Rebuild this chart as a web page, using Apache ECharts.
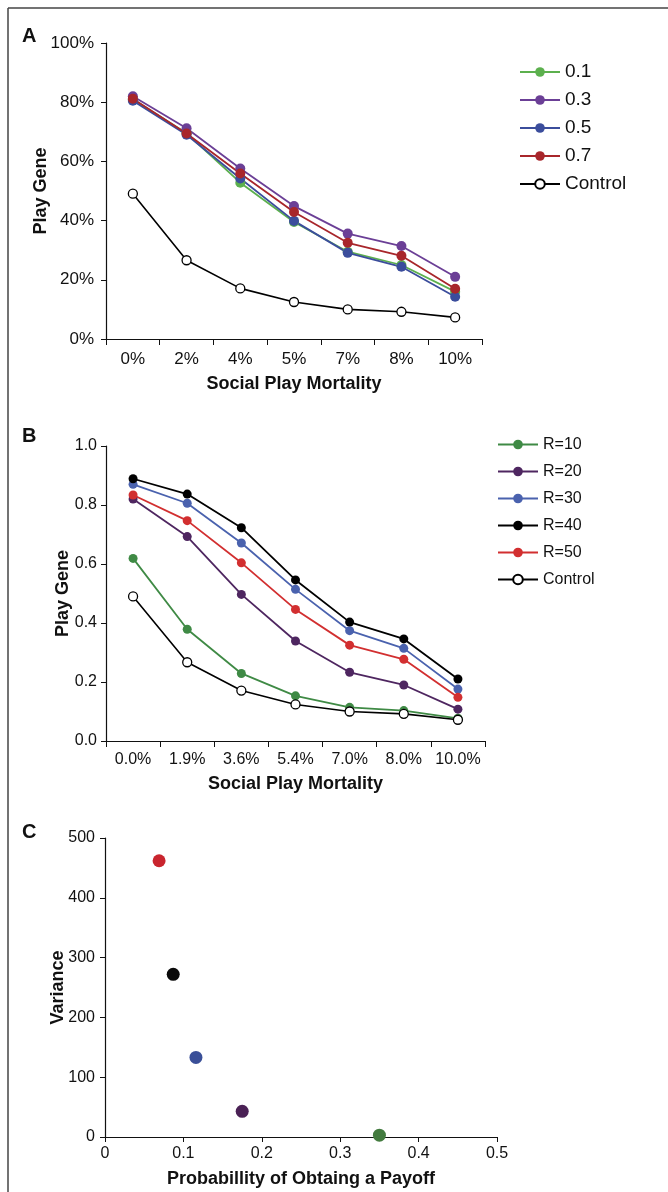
<!DOCTYPE html>
<html>
<head>
<meta charset="utf-8">
<script src="https://cdn.jsdelivr.net/npm/echarts@6/dist/echarts.min.js"></script>
<style>html,body{margin:0;padding:0;background:#fff}#c{width:668px;height:1192px}</style>
</head>
<body>
<div id="c"></div>
<script>
// Panel A
const aCategories = ['0%', '2%', '4%', '5%', '7%', '8%', '10%'];
const aNames = ['0.1', '0.3', '0.5', '0.7', 'Control'];
const a01 = [81, 69.5, 52.8, 39.5, 29.5, 25, 16];
const a03 = [82, 71.2, 57.6, 44.9, 35.6, 31.4, 21];
const a05 = [80.5, 69, 54.2, 39.9, 29.1, 24.4, 14.3];
const a07 = [81.2, 69.4, 55.9, 42.9, 32.5, 28.1, 17];
const aControl = [49.1, 26.6, 17.1, 12.5, 10, 9.2, 7.3];
const aTicks = [0, 20, 40, 60, 80, 100];

// Panel B
const bCategories = ['0.0%', '1.9%', '3.6%', '5.4%', '7.0%', '8.0%', '10.0%'];
const bNames = ['R=10', 'R=20', 'R=30', 'R=40', 'R=50', 'Control'];
const bR10 = [0.619, 0.379, 0.229, 0.153, 0.114, 0.103, 0.077];
const bR20 = [0.82, 0.693, 0.497, 0.339, 0.233, 0.19, 0.108];
const bR30 = [0.87, 0.806, 0.671, 0.514, 0.374, 0.314, 0.176];
const bR40 = [0.889, 0.837, 0.723, 0.546, 0.403, 0.346, 0.21];
const bR50 = [0.834, 0.747, 0.604, 0.446, 0.325, 0.277, 0.148];
const bControl = [0.49, 0.267, 0.171, 0.124, 0.1, 0.092, 0.072];

// Panel C
const cProbability = [0.069, 0.087, 0.116, 0.175, 0.35];
const cVariance = [462, 272, 133, 43, 3];

const FONT = 'Liberation Sans, Arial, sans-serif';
const aColors = ['#5cb04e', '#6b3f96', '#3b4d9c', '#a8262b'];
const bColors = ['#3f8a45', '#4e2660', '#4a62ae', '#000000', '#d22f30'];
const cColors = ['#c9252e', '#0a0a0a', '#3a4f98', '#4a2155', '#437b3f'];

function lineSeries(name, data, color, idx, size) {
  return {
    name: name, type: 'line', data: data, xAxisIndex: idx, yAxisIndex: idx,
    symbol: 'circle', symbolSize: size, showSymbol: true,
    lineStyle: { color: color, width: 1.8 },
    itemStyle: { color: color },
    emphasis: { disabled: true }, animation: false
  };
}
function controlSeries(name, data, idx, size) {
  return {
    name: name, type: 'line', data: data, xAxisIndex: idx, yAxisIndex: idx,
    symbol: 'circle', symbolSize: size, showSymbol: true,
    lineStyle: { color: '#000', width: 1.6 },
    itemStyle: { color: '#fff', borderColor: '#000', borderWidth: 1.3 },
    emphasis: { disabled: true }, animation: false
  };
}

const axisLine = { show: true, lineStyle: { color: '#111', width: 1.2 } };
const nameStyle = { fontFamily: FONT, fontWeight: 'bold', fontSize: 18, color: '#111' };

const series = [];
[a01, a03, a05, a07].forEach((d, i) => series.push(lineSeries(aNames[i], d, aColors[i], 0, 10)));
series.push(controlSeries('Control', aControl, 0, 9));
[bR10, bR20, bR30, bR40, bR50].forEach((d, i) => series.push(lineSeries(bNames[i], d, bColors[i], 1, 9)));
series.push(controlSeries('Control ', bControl, 1, 9));
series.push({
  type: 'scatter', xAxisIndex: 2, yAxisIndex: 2, symbolSize: 13,
  data: cProbability.map((p, i) => ({ value: [p, cVariance[i]], itemStyle: { color: cColors[i], opacity: 1 } })),
  itemStyle: { opacity: 1 },
  emphasis: { disabled: true }, animation: false
});

const option = {
  backgroundColor: '#fff',
  animation: false,
  grid: [
    { left: 106, top: 43, width: 376, height: 296 },
    { left: 106, top: 446, width: 379, height: 295 },
    { left: 105, top: 838, width: 392, height: 299 }
  ],
  xAxis: [
    {
      gridIndex: 0, type: 'category', data: aCategories, boundaryGap: true,
      axisLine: axisLine, axisTick: { show: true, length: 6, lineStyle: { color: '#111' } },
      axisLabel: { fontFamily: FONT, fontSize: 17, color: '#111', margin: 12, interval: 0 },
      name: 'Social Play Mortality', nameLocation: 'middle', nameGap: 36, nameTextStyle: nameStyle
    },
    {
      gridIndex: 1, type: 'category', data: bCategories, boundaryGap: true,
      axisLine: axisLine, axisTick: { show: true, length: 6, lineStyle: { color: '#111' } },
      axisLabel: { fontFamily: FONT, fontSize: 16, color: '#111', margin: 11, interval: 0, hideOverlap: false },
      name: 'Social Play Mortality', nameLocation: 'middle', nameGap: 34, nameTextStyle: nameStyle
    },
    {
      gridIndex: 2, type: 'value', min: 0, max: 0.5, interval: 0.1,
      axisLine: axisLine, axisTick: { show: true, length: 5, lineStyle: { color: '#111' } },
      splitLine: { show: false },
      axisLabel: { fontFamily: FONT, fontSize: 16, color: '#111', margin: 9 },
      name: 'Probabillity of Obtaing a Payoff', nameLocation: 'middle', nameGap: 33, nameTextStyle: nameStyle
    }
  ],
  yAxis: [
    {
      gridIndex: 0, type: 'value', min: aTicks[0], max: aTicks[aTicks.length - 1], interval: 20,
      axisLine: axisLine, axisTick: { show: true, length: 5, lineStyle: { color: '#111' } },
      splitLine: { show: false },
      axisLabel: { fontFamily: FONT, fontSize: 17, color: '#111', margin: 12, formatter: '{value}%' },
      name: 'Play Gene', nameLocation: 'middle', nameGap: 56, nameMoveOverlap: false, nameTextStyle: nameStyle
    },
    {
      gridIndex: 1, type: 'value', min: 0, max: 1, interval: 0.2,
      axisLine: axisLine, axisTick: { show: true, length: 5, lineStyle: { color: '#111' } },
      splitLine: { show: false },
      axisLabel: { fontFamily: FONT, fontSize: 16, color: '#111', margin: 9, formatter: v => v.toFixed(1) },
      name: 'Play Gene', nameLocation: 'middle', nameGap: 34, nameMoveOverlap: false, nameTextStyle: nameStyle
    },
    {
      gridIndex: 2, type: 'value', min: 0, max: 500, interval: 100,
      axisLine: axisLine, axisTick: { show: true, length: 5, lineStyle: { color: '#111' } },
      splitLine: { show: false },
      axisLabel: { fontFamily: FONT, fontSize: 16, color: '#111', margin: 10 },
      name: 'Variance', nameLocation: 'middle', nameGap: 38, nameMoveOverlap: false, nameTextStyle: nameStyle
    }
  ],
  legend: [
    {
      data: aNames, orient: 'vertical', left: 514, top: 57,
      itemWidth: 40, itemHeight: 12, itemGap: 8,
      textStyle: { fontFamily: FONT, fontSize: 19, color: '#111', lineHeight: 20 },
      selectedMode: false
    },
    {
      data: bNames.slice(0, 5).concat(['Control ']), orient: 'vertical', left: 492, top: 431,
      itemWidth: 40, itemHeight: 12, itemGap: 10,
      formatter: n => n.trim(),
      textStyle: { fontFamily: FONT, fontSize: 16, color: '#111', lineHeight: 17 },
      selectedMode: false
    }
  ],
  graphic: [
    { type: 'line', shape: { x1: 8, y1: 8, x2: 668, y2: 8 }, style: { stroke: '#444', lineWidth: 1.5 } },
    { type: 'line', shape: { x1: 8, y1: 8, x2: 8, y2: 1192 }, style: { stroke: '#444', lineWidth: 1.5 } },
    { type: 'text', left: 22, top: 26, style: { text: 'A', font: 'bold 20px ' + FONT, fill: '#111' } },
    { type: 'text', left: 22, top: 426, style: { text: 'B', font: 'bold 20px ' + FONT, fill: '#111' } },
    { type: 'text', left: 22, top: 822, style: { text: 'C', font: 'bold 20px ' + FONT, fill: '#111' } }
  ],
  series: series
};

const chart = echarts.init(document.getElementById('c'), null, { renderer: 'canvas' });
chart.setOption(option);
</script>
</body>
</html>
